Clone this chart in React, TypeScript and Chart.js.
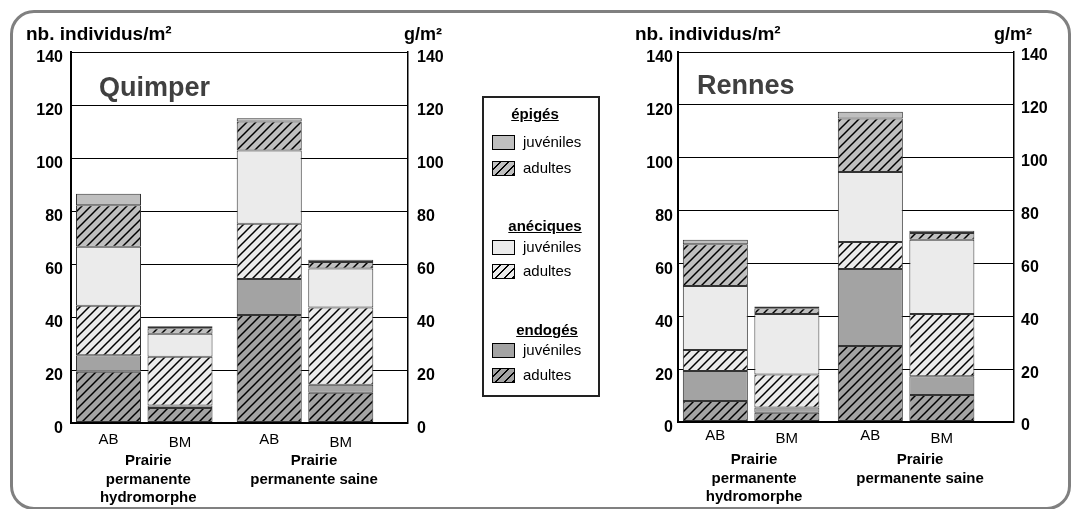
import React, { useEffect, useRef } from "react";
import { Chart, registerables } from "chart.js";

Chart.register(...registerables);

const FONT = "'Liberation Sans', Arial, Helvetica, sans-serif";

// ---------- data ----------
const barLabels = ["AB", "BM"];
const groupLabels = [
  ["Prairie", "permanente", "hydromorphe"],
  ["Prairie", "permanente saine"],
];
const leftUnit = "nb. individus/m²";
const rightUnit = "g/m²";
const yMin = 0;
const yMax = 140;
const yStep = 20;

// bar order: [hydromorphe AB, hydromorphe BM, saine AB, saine BM]
const quimperEndoAdultes = [19.3, 5.7, 40.8, 11.4];
const quimperEndoJuveniles = [6.3, 0.9, 13.5, 3.0];
const quimperAnecAdultes = [18.6, 18.4, 20.9, 29.2];
const quimperAnecJuveniles = [22.3, 8.7, 27.6, 14.7];
const quimperEpigAdultes = [15.7, 2.1, 11.0, 2.5];
const quimperEpigJuveniles = [4.3, 0.7, 1.2, 0.8];

const rennesEndoAdultes = [7.9, 3.5, 28.8, 10.2];
const rennesEndoJuveniles = [11.4, 2.0, 29.1, 7.1];
const rennesAnecAdultes = [7.9, 12.5, 10.2, 23.6];
const rennesAnecJuveniles = [24.3, 22.9, 26.5, 28.1];
const rennesEpigAdultes = [15.8, 2.1, 20.2, 2.5];
const rennesEpigJuveniles = [1.7, 0.7, 2.6, 0.9];

const legendGroups = ["épigés", "anéciques", "endogés"];
const legendItems = ["juvéniles", "adultes"];

// ---------- styles ----------
const colorEpiges = "#BFBFBF";
const colorAneciques = "#EBEBEB";
const colorEndoges = "#A3A3A3";
const legendColors = [colorEpiges, colorAneciques, colorEndoges];

function makeHatch(ctx: CanvasRenderingContext2D, bg: string): CanvasPattern | string {
  const s = 9;
  const c = document.createElement("canvas");
  c.width = s;
  c.height = s;
  const g = c.getContext("2d");
  if (!g) return bg;
  g.fillStyle = bg;
  g.fillRect(0, 0, s, s);
  g.strokeStyle = "#000";
  g.lineWidth = 1.5;
  g.beginPath();
  g.moveTo(-1, s + 1);
  g.lineTo(s + 1, -1);
  g.moveTo(-2, 2);
  g.lineTo(2, -2);
  g.moveTo(s - 2, s + 2);
  g.lineTo(s + 2, s - 2);
  g.stroke();
  return ctx.createPattern(c, "repeat") || bg;
}

type PanelConf = {
  city: string;
  left: number;
  width: number;
  padL: number;
  padR: number;
  padB: number;
  xMin: number;
  xMax: number;
  cp: number;
  leftUnitDx: number;
  rightUnitDx: number;
  cityDx: number;
  cityY: number;
  groupDx: number[];
  barLabelDy: number[];
  offL: number;
  offR: number;
  padTickL: number;
  padTickR: number;
  layers: { values: number[]; color: string; hatch: boolean; name: string }[];
};

const quimperConf: PanelConf = {
  city: "Quimper",
  left: 0,
  width: 470,
  padL: 26,
  padR: 17,
  padB: 86,
  xMin: 0.5443,
  xMax: 2.6407,
  cp: 0.89,
  leftUnitDx: -45,
  rightUnitDx: 34,
  cityDx: 28,
  cityY: 96,
  groupDx: [4, 9],
  barLabelDy: [17, 20],
  offL: 6,
  offR: 6,
  padTickL: 8,
  padTickR: 9,
  layers: [
    { values: quimperEndoAdultes, color: colorEndoges, hatch: true, name: "endogés adultes" },
    { values: quimperEndoJuveniles, color: colorEndoges, hatch: false, name: "endogés juvéniles" },
    { values: quimperAnecAdultes, color: colorAneciques, hatch: true, name: "anéciques adultes" },
    { values: quimperAnecJuveniles, color: colorAneciques, hatch: false, name: "anéciques juvéniles" },
    { values: quimperEpigAdultes, color: colorEpiges, hatch: true, name: "épigés adultes" },
    { values: quimperEpigJuveniles, color: colorEpiges, hatch: false, name: "épigés juvéniles" },
  ],
};

const rennesConf: PanelConf = {
  city: "Rennes",
  left: 600,
  width: 471,
  padL: 33,
  padR: 12,
  padB: 87,
  xMin: 0.5284,
  xMax: 2.6961,
  cp: 0.923,
  leftUnitDx: -43,
  rightUnitDx: 18,
  cityDx: 19,
  cityY: 94,
  groupDx: [3, 14],
  barLabelDy: [14, 17],
  offL: 6,
  offR: 4,
  padTickL: 5,
  padTickR: 7,
  layers: [
    { values: rennesEndoAdultes, color: colorEndoges, hatch: true, name: "endogés adultes" },
    { values: rennesEndoJuveniles, color: colorEndoges, hatch: false, name: "endogés juvéniles" },
    { values: rennesAnecAdultes, color: colorAneciques, hatch: true, name: "anéciques adultes" },
    { values: rennesAnecJuveniles, color: colorAneciques, hatch: false, name: "anéciques juvéniles" },
    { values: rennesEpigAdultes, color: colorEpiges, hatch: true, name: "épigés adultes" },
    { values: rennesEpigJuveniles, color: colorEpiges, hatch: false, name: "épigés juvéniles" },
  ],
};

function Panel({ conf }: { conf: PanelConf }) {
  const ref = useRef<HTMLCanvasElement | null>(null);
  useEffect(() => {
    const canvas = ref.current;
    if (!canvas) return;
    const ctx = canvas.getContext("2d");
    if (!ctx) return;

    const datasets: any[] = [];
    conf.layers.forEach((layer) => {
      barLabels.forEach((lab, si) => {
        datasets.push({
          label: layer.name + " " + lab,
          stack: lab,
          data: [
            { x: 1, y: layer.values[si] },
            { x: 2, y: layer.values[2 + si] },
          ],
          backgroundColor: layer.hatch ? makeHatch(ctx, layer.color) : layer.color,
          borderColor: "#333333",
          borderWidth: 1,
          borderSkipped: false,
          categoryPercentage: conf.cp,
          barPercentage: 0.909,
        });
      });
    });

    const deco = {
      id: "deco",
      afterDraw(chart: any) {
        const c = chart.ctx as CanvasRenderingContext2D;
        const a = chart.chartArea;
        c.save();
        c.fillStyle = "#000";
        c.textBaseline = "middle";
        c.textAlign = "left";
        c.font = `bold 19px ${FONT}`;
        c.fillText(leftUnit, a.left + conf.leftUnitDx, 35);
        c.textAlign = "right";
        c.font = `bold 18px ${FONT}`;
        c.fillText(rightUnit, a.right + conf.rightUnitDx, 35);

        c.textAlign = "left";
        c.textBaseline = "alphabetic";
        c.fillStyle = "#404040";
        c.font = `bold 27px ${FONT}`;
        c.fillText(conf.city, a.left + conf.cityDx, conf.cityY);

        c.fillStyle = "#000";
        c.textAlign = "center";
        c.textBaseline = "middle";
        const m0 = chart.getDatasetMeta(0);
        const m1 = chart.getDatasetMeta(1);
        for (let g = 0; g < 2; g++) {
          const xs = [m0.data[g].x, m1.data[g].x];
          c.font = `15px ${FONT}`;
          xs.forEach((x: number, s: number) => {
            c.fillText(barLabels[s], x, a.bottom + conf.barLabelDy[s]);
          });
          c.font = `bold 15px ${FONT}`;
          const cx = (xs[0] + xs[1]) / 2 + conf.groupDx[g];
          groupLabels[g].forEach((line, i) => {
            c.fillText(line, cx, a.bottom + 38 + i * 18.5);
          });
        }
        c.restore();
      },
    };

    const tickFont = { family: FONT, size: 16, weight: "bold" as const };

    const chart = new Chart(ctx, {
      type: "bar",
      data: { datasets },
      options: {
        responsive: false,
        maintainAspectRatio: false,
        animation: false,
        layout: { padding: { left: conf.padL, right: conf.padR, top: 52, bottom: conf.padB } },
        plugins: { legend: { display: false }, tooltip: { enabled: false } },
        scales: {
          x: {
            type: "linear",
            display: false,
            min: conf.xMin,
            max: conf.xMax,
            offset: false,
            afterBuildTicks: (s: any) => {
              s.ticks = [{ value: 1 }, { value: 2 }];
            },
          },
          y: {
            position: "left",
            stacked: true,
            min: yMin,
            max: yMax,
            ticks: { stepSize: yStep, color: "#000", font: tickFont, padding: conf.padTickL, labelOffset: conf.offL },
            grid: {
              color: "#000",
              lineWidth: (c: any) => (c.tick && c.tick.value === 0 ? 2 : 1),
              drawTicks: false,
            },
            border: { display: true, color: "#000", width: 2 },
            afterFit: (s: any) => {
              s.width = 45;
            },
          },
          y2: {
            position: "right",
            min: yMin,
            max: yMax,
            ticks: { stepSize: yStep, color: "#000", font: tickFont, padding: conf.padTickR, labelOffset: conf.offR },
            grid: { drawOnChartArea: false, drawTicks: false },
            border: { display: true, color: "#000", width: 1.5 },
            afterFit: (s: any) => {
              s.width = 45;
            },
          },
        },
      } as any,
      plugins: [deco],
    });
    return () => chart.destroy();
  }, [conf]);

  return (
    <canvas
      ref={ref}
      width={conf.width}
      height={509}
      style={{ position: "absolute", left: conf.left, top: 0, width: conf.width, height: 509, display: "block" }}
    />
  );
}

function Legend() {
  const headerTop = [9, 121, 225];
  const headerCx = [53, 63, 65];
  const rowTops = [
    [39, 65],
    [144, 168],
    [247, 272],
  ];
  return (
    <div
      style={{
        position: "absolute",
        left: 482,
        top: 96,
        width: 118,
        height: 301,
        boxSizing: "border-box",
        border: "2px solid #222",
        background: "#fff",
        fontFamily: FONT,
        color: "#000",
      }}
    >
      {legendGroups.map((title, gi) => (
        <React.Fragment key={title}>
          <div
            style={{
              position: "absolute",
              left: headerCx[gi] - 2 - 60,
              width: 120,
              top: headerTop[gi] - 2,
              textAlign: "center",
              fontWeight: "bold",
              fontSize: 15,
              lineHeight: "18px",
              textDecoration: "underline",
            }}
          >
            {title}
          </div>
          {legendItems.map((item, ii) => {
            const t = rowTops[gi][ii] - 2;
            const col = legendColors[gi];
            const bg =
              ii === 1
                ? `repeating-linear-gradient(135deg, ${col} 0px, ${col} 4.6px, #000 4.6px, #000 5.9px)`
                : col;
            return (
              <React.Fragment key={item}>
                <div
                  style={{
                    position: "absolute",
                    left: 8,
                    top: t,
                    width: 23,
                    height: 15,
                    boxSizing: "border-box",
                    border: "1.5px solid #000",
                    background: bg,
                  }}
                />
                <div
                  style={{
                    position: "absolute",
                    left: 39,
                    top: t - 2,
                    fontSize: 15,
                    lineHeight: "18px",
                    whiteSpace: "nowrap",
                  }}
                >
                  {item}
                </div>
              </React.Fragment>
            );
          })}
        </React.Fragment>
      ))}
    </div>
  );
}

export default function App() {
  return (
    <div
      style={{
        position: "absolute",
        left: 0,
        top: 0,
        width: 1071,
        height: 509,
        overflow: "hidden",
        background: "#fff",
        fontFamily: FONT,
      }}
    >
      <div
        style={{
          position: "absolute",
          left: 10,
          top: 10,
          width: 1061,
          height: 500,
          boxSizing: "border-box",
          border: "3px solid #808080",
          borderRadius: 24,
        }}
      />
      <Panel conf={quimperConf} />
      <Panel conf={rennesConf} />
      <Legend />
    </div>
  );
}
